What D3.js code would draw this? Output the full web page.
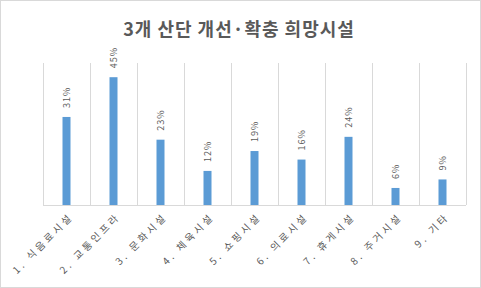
<!DOCTYPE html>
<html>
<head>
<meta charset="utf-8">
<script src="https://cdn.jsdelivr.net/npm/d3@7"></script>
<style>
  body { margin: 0; background: #fff; }
  text { font-family: "Noto Sans CJK KR", "Noto Sans", sans-serif; }
</style>
</head>
<body>
<svg id="chart"></svg>
<script>
{
    const categories = ["1. 식음료시설", "2. 교통인프라", "3. 문화시설", "4. 체육시설", "5. 쇼핑시설",
                        "6. 의료시설", "7. 휴게시설", "8. 주거시설", "9. 기타"];
    const values = [31, 45, 23, 12, 19, 16, 24, 6, 9];
    const title = "3개 산단 개선·확충 희망시설";

    const W = 481, H = 288;
    const margin = {top: 63, right: 15, bottom: 83, left: 43},
        width = W - margin.left - margin.right,
        height = H - margin.top - margin.bottom;

    const svg = d3.select("#chart")
        .attr("width", W)
        .attr("height", H);

    // outer border
    svg.append("rect")
        .attr("x", 0.5).attr("y", 0.5)
        .attr("width", W - 1).attr("height", H - 1)
        .attr("fill", "#fff")
        .attr("stroke", "#d9d9d9");

    svg.append("text")
        .attr("x", 239)
        .attr("y", 36)
        .attr("text-anchor", "middle")
        .attr("font-size", 18)
        .attr("font-weight", "bold")
        .attr("fill", "#595959")
        .attr("letter-spacing", 1)
        .text(title);

    const xScale = d3.scaleBand()
        .domain(categories)
        .range([0, width]);

    const yScale = d3.scaleLinear()
        .domain([0, 50])
        .range([height, 0]);

    const chart = svg.append("g")
        .attr("transform", `translate(${margin.left}, ${margin.top})`);

    // vertical gridlines at band edges
    const edges = categories.map(c => xScale(c)).concat([width]);
    chart.append("g")
        .selectAll("line")
        .data(edges)
        .enter().append("line")
        .attr("x1", d => Math.round(d) + 0.5)
        .attr("x2", d => Math.round(d) + 0.5)
        .attr("y1", 0)
        .attr("y2", height)
        .attr("stroke", "#d9d9d9");

    const barW = 8;
    chart.selectAll(".bar")
        .data(values)
        .enter().append("rect")
        .attr("class", "bar")
        .attr("x", (d, i) => xScale(categories[i]) + xScale.bandwidth() / 2 - barW / 2)
        .attr("y", d => yScale(d))
        .attr("width", barW)
        .attr("height", d => height - yScale(d))
        .attr("fill", "#5b9bd5");

    // x axis line
    chart.append("line")
        .attr("x1", 0).attr("x2", width)
        .attr("y1", height + 0.5).attr("y2", height + 0.5)
        .attr("stroke", "#d9d9d9");

    // data labels
    chart.selectAll(".lbl")
        .data(values)
        .enter().append("text")
        .attr("class", "lbl")
        .attr("transform", (d, i) => {
            const cx = xScale(categories[i]) + xScale.bandwidth() / 2;
            return `translate(${cx}, ${yScale(d) - 9}) rotate(-90)`;
        })
        .attr("dy", "0.35em")
        .attr("font-size", 9)
        .attr("letter-spacing", 1)
        .attr("fill", "#595959")
        .text(d => d + "%");

    // category labels
    chart.selectAll(".cat")
        .data(categories)
        .enter().append("text")
        .attr("class", "cat")
        .attr("transform", d => {
            const cx = xScale(d) + xScale.bandwidth() / 2 + 5;
            return `translate(${cx}, ${height + 10}) rotate(-45)`;
        })
        .attr("text-anchor", "end")
        .attr("dy", "0.35em")
        .attr("font-size", 10)
        .attr("letter-spacing", 3)
        .attr("fill", "#595959")
        .text(d => d);
}
</script>
</body>
</html>
